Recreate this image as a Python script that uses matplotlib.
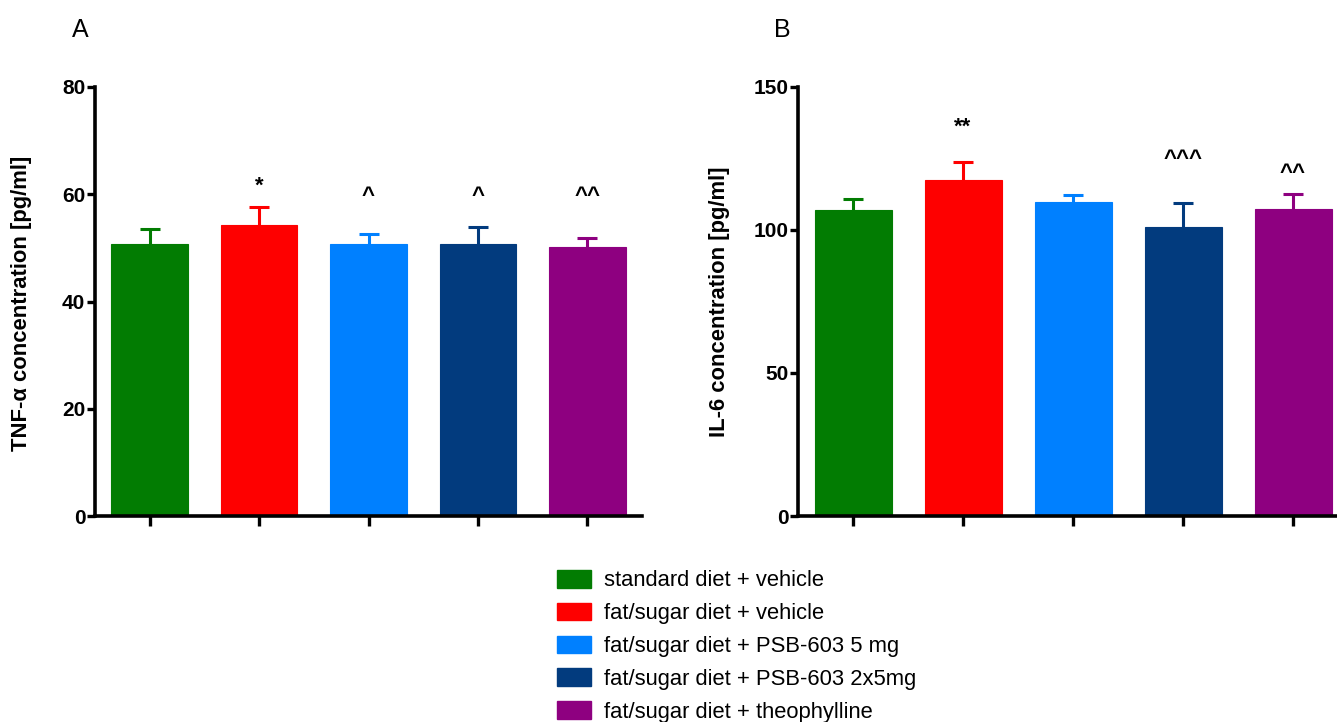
import matplotlib
matplotlib.use("Agg")
import matplotlib.pyplot as plt
from matplotlib.patches import Patch

plt.rcParams["font.family"] = ["Liberation Sans", "DejaVu Sans"]

groups = [
    "standard diet + vehicle",
    "fat/sugar diet + vehicle",
    "fat/sugar diet + PSB-603 5 mg",
    "fat/sugar diet + PSB-603 2x5mg",
    "fat/sugar diet + theophylline",
]
colors = ["#027c02", "#fe0000", "#0080ff", "#023b7e", "#8e0080"]

tnf_mean = [50.8, 54.3, 50.8, 50.8, 50.2]
tnf_sem = [2.7, 3.3, 1.7, 3.1, 1.7]
tnf_marks = ["", "*", "^", "^", "^^"]
tnf_mark_y = [0, 62.1, 60.2, 60.2, 60.2]

il6_mean = [107.0, 117.4, 109.9, 101.2, 107.4]
il6_sem = [3.9, 6.3, 2.5, 8.1, 5.2]
il6_marks = ["", "**", "", "^^^", "^^"]
il6_mark_y = [0, 137.0, 0, 125.5, 120.6]

W, H = 1337, 722
fig = plt.figure(figsize=(W / 100, H / 100), dpi=100)


def panel(rect, means, sems, marks, mark_y, ymax, step):
    ax = fig.add_axes(rect)
    x = list(range(len(means)))
    ax.bar(x, means, width=0.7, color=colors, edgecolor=colors, linewidth=0.8, zorder=2)
    for xi, m, s, c in zip(x, means, sems, colors):
        eb = ax.errorbar(xi, m, yerr=[[0], [s]], fmt="none", ecolor=c, elinewidth=2.2,
                         capsize=7.5, capthick=2.2, zorder=3)
        eb[1][0].set_visible(False)  # only the upper cap
    for xi, lab, yy in zip(x, marks, mark_y):
        if lab:
            ax.annotate(lab, (xi, yy), xytext=(0, -6), textcoords="offset points",
                        ha="center", va="baseline", fontsize=16, fontweight="bold")
    ax.set_xlim(-0.5, len(means) - 0.5)
    ax.set_ylim(0, ymax)
    ax.set_yticks(range(0, ymax + 1, step))
    ax.set_xticks(x)
    ax.set_xticklabels([])
    for side in ("top", "right"):
        ax.spines[side].set_visible(False)
    for side in ("left", "bottom"):
        ax.spines[side].set_linewidth(2.6)
    ax.tick_params(axis="y", direction="out", length=6, width=2.4, labelsize=15, pad=1)
    ax.tick_params(axis="x", direction="out", length=7.5, width=2.4)
    for t in ax.get_yticklabels():
        t.set_fontweight("bold")
    return ax


ax_a = panel([95 / W, 1 - 516 / H, 547 / W, 429 / H], tnf_mean, tnf_sem,
             tnf_marks, tnf_mark_y, 80, 20)
ax_b = panel([798 / W, 1 - 516 / H, 550 / W, 429 / H], il6_mean, il6_sem,
             il6_marks, il6_mark_y, 150, 50)

fig.text(22 / W, 1 - 303 / H, "TNF-\u03b1 concentration [pg/ml]", rotation=90,
         ha="center", va="center", fontsize=15.8, fontweight="bold")
fig.text(720 / W, 1 - 302 / H, "IL-6 concentration [pg/ml]", rotation=90,
         ha="center", va="center", fontsize=15.8, fontweight="bold")

fig.text(80 / W, 1 - 30 / H, "A", ha="center", va="center", fontsize=18)
fig.text(782 / W, 1 - 30 / H, "B", ha="center", va="center", fontsize=18)

handles = [Patch(facecolor=c, edgecolor=c) for c in colors]
fig.legend(handles, groups, loc="upper left", bbox_to_anchor=(557 / W, 1 - 570 / H),
           frameon=False, fontsize=15.8, borderpad=0, borderaxespad=0,
           handlelength=1.55, handleheight=0.86, handletextpad=0.6, labelspacing=0.52)

fig.savefig("out.png", dpi=100)
